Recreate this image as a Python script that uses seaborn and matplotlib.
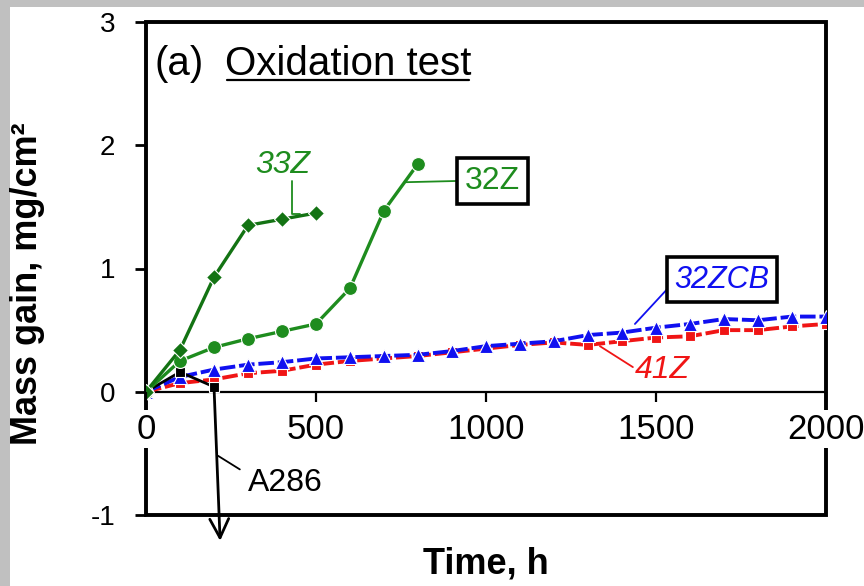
import matplotlib
matplotlib.use("Agg")
import matplotlib.pyplot as plt
import seaborn as sns
import pandas as pd
from matplotlib.patches import Rectangle
from matplotlib.lines import Line2D

# ---- data ----
t_33z = [0, 100, 200, 300, 400, 500]
m_33z = [0, 0.34, 0.93, 1.35, 1.40, 1.45]

t_32z = [0, 100, 200, 300, 400, 500, 600, 700, 800]
m_32z = [0, 0.25, 0.36, 0.43, 0.49, 0.55, 0.84, 1.47, 1.85]

t_long = [0, 100, 200, 300, 400, 500, 600, 700, 800, 900, 1000,
          1100, 1200, 1300, 1400, 1500, 1600, 1700, 1800, 1900, 2000]
m_32zcb = [0, 0.12, 0.18, 0.22, 0.24, 0.27, 0.28, 0.29, 0.30, 0.33, 0.37,
           0.39, 0.41, 0.46, 0.48, 0.52, 0.55, 0.59, 0.58, 0.61, 0.61]
m_41z = [0, 0.07, 0.10, 0.15, 0.17, 0.22, 0.25, 0.27, 0.29, 0.32, 0.35,
         0.38, 0.40, 0.38, 0.41, 0.44, 0.45, 0.50, 0.50, 0.53, 0.55]

t_a286 = [0, 100, 200]
m_a286 = [0, 0.16, 0.04]

x_ticks = [0, 500, 1000, 1500, 2000]
y_ticks = [-1, 0, 1, 2, 3]

sns.set_theme(style="white")
plt.rcParams['font.family'] = ['Liberation Sans', 'DejaVu Sans']
plt.rcParams['text.color'] = 'black'
plt.rcParams['axes.labelcolor'] = 'black'
plt.rcParams['xtick.color'] = 'black'
plt.rcParams['ytick.color'] = 'black'

fig = plt.figure(figsize=(8.64, 5.86), dpi=100, facecolor='#c0c0c0')
fig.add_artist(Rectangle((10 / 864, 0), 1 - 10 / 864, 1 - 7 / 586,
                         transform=fig.transFigure, facecolor='white',
                         edgecolor='none', zorder=-5))

ax = fig.add_axes([146 / 864, 71 / 586, 680 / 864, 493 / 586])
ax.set_facecolor('white')

GREEN_D = '#137313'
GREEN_C = '#1e8c1e'
BLUE = '#1010f0'
RED = '#f01515'

df41 = pd.DataFrame({'t': t_long, 'm': m_41z})
dfcb = pd.DataFrame({'t': t_long, 'm': m_32zcb})
df33 = pd.DataFrame({'t': t_33z, 'm': m_33z})
df32 = pd.DataFrame({'t': t_32z, 'm': m_32z})
dfa = pd.DataFrame({'t': t_a286, 'm': m_a286})

sns.lineplot(data=df41, x='t', y='m', ax=ax, color=RED, marker='s',
             markersize=7, markeredgecolor='white', markeredgewidth=0.8,
             linewidth=2.8, linestyle=(0, (4, 1)), estimator=None, zorder=3)
sns.lineplot(data=dfcb, x='t', y='m', ax=ax, color=BLUE, marker='^',
             markersize=10.5, markeredgecolor='white', markeredgewidth=0.8,
             linewidth=2.8, linestyle=(0, (4, 1)), estimator=None, zorder=4)
sns.lineplot(data=dfa, x='t', y='m', ax=ax, color='black', marker='s',
             markersize=6.5, markeredgecolor='white', markeredgewidth=0.8,
             linewidth=2.0, estimator=None, zorder=5)
sns.lineplot(data=df32, x='t', y='m', ax=ax, color=GREEN_C, marker='o',
             markersize=10, markeredgecolor='white', markeredgewidth=0.8,
             linewidth=2.4, estimator=None, zorder=6)
sns.lineplot(data=df33, x='t', y='m', ax=ax, color=GREEN_D, marker='D',
             markersize=8.5, markeredgecolor='white', markeredgewidth=0.8,
             linewidth=2.4, estimator=None, zorder=7)

ax.set_xlim(0, 2000)
ax.set_ylim(-1, 3)

# frame
ax.add_patch(Rectangle((0, 0), 1, 1, transform=ax.transAxes, fill=False,
                       edgecolor='black', linewidth=2.8, clip_on=False, zorder=2))
for s in ['top', 'right', 'left']:
    ax.spines[s].set_visible(False)
ax.spines['bottom'].set_position(('data', 0))
ax.spines['bottom'].set_linewidth(1.6)
ax.spines['bottom'].set_color('black')

ax.set_xticks(x_ticks)
ax.set_xticklabels([str(v) for v in x_ticks])
ax.set_yticks(y_ticks)
ax.set_yticklabels([str(v) for v in y_ticks])
ax.tick_params(axis='x', bottom=True, direction='out', length=7, width=1.6,
               labelsize=25, pad=8, colors='black')
ax.tick_params(axis='y', left=True, direction='out', length=8, width=2.0,
               labelsize=20, pad=14, colors='black')
for t in ax.get_xticklabels():
    t.set_bbox(dict(facecolor='white', edgecolor='none', pad=2))
ax.xaxis.set_zorder(8)

ax.set_xlabel('Time, h', fontsize=26, fontweight='bold', va='center', color='black')
ax.set_ylabel('Mass gain, mg/cm²', fontsize=26, fontweight='bold', va='center', color='black')
ax.xaxis.set_label_coords(0.5, -0.099)
ax.yaxis.set_label_coords(-0.174, 0.47)

# title
ax.text(0.0132, 0.8925, '(a)', transform=ax.transAxes, fontsize=29,
        va='baseline', ha='left', color='black')
t2 = ax.text(0.116, 0.8925, 'Oxidation test', transform=ax.transAxes,
             fontsize=29, va='baseline', ha='left', color='black')

# annotations
ax.text(403, 1.84, '33Z', color=GREEN_C, fontsize=23, style='italic',
        ha='center', va='center')
ax.plot([430, 430, 452], [1.71, 1.44, 1.44], color=GREEN_C, lw=1.3, zorder=3)

ax.text(1018, 1.71, '32Z', color=GREEN_C, fontsize=23, ha='center',
        va='center', bbox=dict(facecolor='white', edgecolor='black',
                               linewidth=2.6, boxstyle='square,pad=0.25'), zorder=9)
ax.plot([912, 760], [1.71, 1.70], color=GREEN_C, lw=1.3, zorder=3)

ax.text(1694, 0.91, '32ZCB', color=BLUE, fontsize=22, style='italic',
        ha='center', va='center', bbox=dict(facecolor='white', edgecolor='black',
                                            linewidth=2.6, boxstyle='square,pad=0.25'), zorder=9)
ax.plot([1532, 1438], [0.83, 0.55], color=BLUE, lw=1.3, zorder=3)

ax.text(1438, 0.18, '41Z', color=RED, fontsize=23, style='italic',
        ha='left', va='center')
ax.plot([1432, 1335], [0.20, 0.37], color=RED, lw=1.3, zorder=3)

ax.text(300, -0.74, 'A286', color='black', fontsize=23, ha='left', va='center')
ax.plot([212, 276], [-0.52, -0.63], color='black', lw=1.3, zorder=3)
ax.annotate('', xy=(218, -1.21), xytext=(200, 0.04),
            arrowprops=dict(arrowstyle='->', lw=2.0, color='black',
                            mutation_scale=34, shrinkA=0, shrinkB=0),
            annotation_clip=False, zorder=5)

# underline for "Oxidation test"
fig.canvas.draw()
bb = t2.get_window_extent()
inv = fig.transFigure.inverted()
(x0, y0), (x1, _) = inv.transform([(bb.x0, bb.y0), (bb.x1, bb.y0)])
yline = (586 - 80) / 586
fig.add_artist(Line2D([x0 + 2 / 864, x1 - 2 / 864], [yline, yline],
                      transform=fig.transFigure, color='black', lw=1.6))

fig.savefig('out.png', dpi=100, facecolor=fig.get_facecolor())
